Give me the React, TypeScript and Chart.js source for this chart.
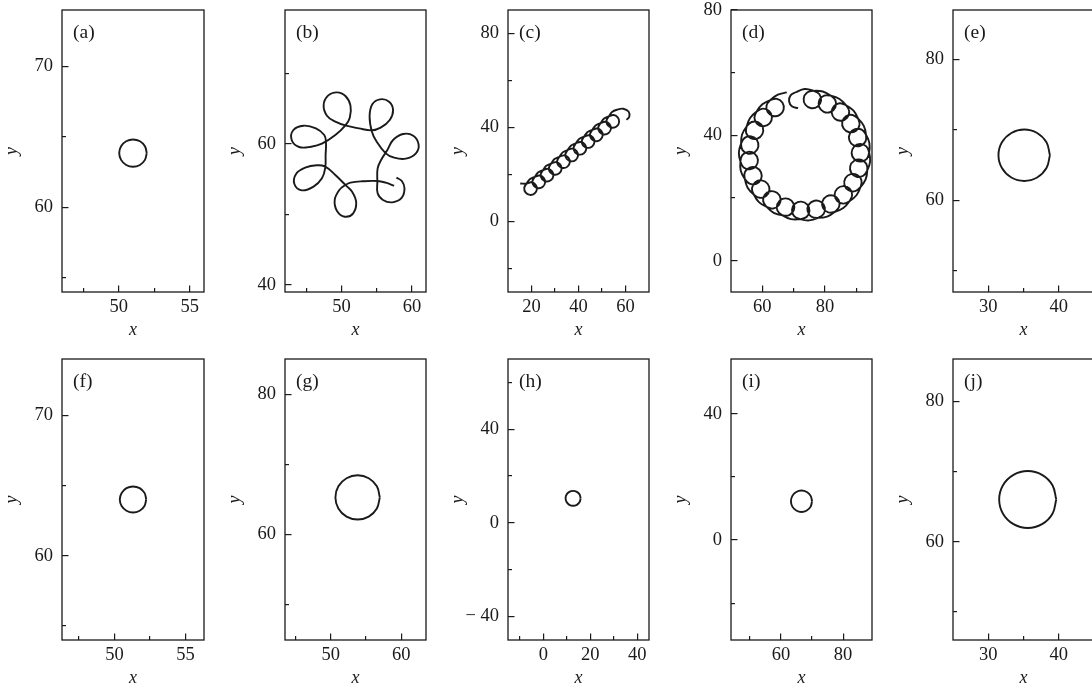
import React, { useEffect, useRef } from "react";
import { Chart, registerables } from "chart.js";

Chart.register(...registerables);

type Pt = [number, number];

// ---------- trajectories (x, y) ----------
const pathA: Pt[] = [
  [51.97, 63.85], [51.84, 64.34], [51.49, 64.69], [51.0, 64.82], [50.52, 64.69], [50.16, 64.34],
  [50.03, 63.85], [50.16, 63.37], [50.52, 63.01], [51.0, 62.88], [51.49, 63.01], [51.84, 63.37], [51.97, 63.85],
];

const pathB: Pt[] = [
  [57.48, 54.08], [56.29, 54.51], [55.1, 54.74], [52.95, 54.7], [51.29, 54.51], [50.57, 54.18],
  [49.71, 53.47], [49.05, 52.05], [49.38, 50.49], [50.48, 49.68], [51.67, 50.16], [52.1, 51.72], [51.52, 53.23], [50.67, 54.08], [49.14, 55.6], [47.71, 56.78],
  [46.52, 56.97], [44.86, 56.63], [43.57, 55.74], [43.33, 54.32], [44.38, 53.42], [46.05, 53.94], [47.24, 55.12], [47.71, 56.63], [47.76, 58.43], [47.81, 60.23],
  [47.57, 61.27], [46.38, 62.21], [44.62, 62.59], [43.19, 61.98], [42.95, 60.56], [44.0, 59.57], [45.71, 59.61], [47.24, 60.04], [49.14, 61.27], [50.57, 62.64],
  [51.19, 63.73], [51.29, 65.43], [50.57, 66.8], [49.38, 67.32], [48.1, 66.85], [47.48, 65.52], [47.95, 64.01], [49.14, 63.16], [50.67, 62.59], [52.48, 62.21], [54.29, 61.93],
  [55.57, 62.31], [56.86, 63.4], [57.33, 64.81], [56.76, 66.0], [55.48, 66.33], [54.38, 65.62], [54.0, 63.87], [54.33, 61.74], [54.95, 60.42], [56.29, 58.67],
  [57.48, 58.05], [59.14, 57.91], [60.57, 58.67], [60.95, 59.94], [60.19, 61.17], [58.76, 61.41], [57.33, 60.56], [56.52, 59.14], [55.71, 57.86], [55.14, 56.54], [55.1, 54.65],
  [55.14, 53.0], [55.9, 52.05], [57.24, 51.72], [58.57, 52.38], [58.95, 53.7], [58.57, 54.74], [57.81, 55.22],
];

const pathC: Pt[] = [
  [15.2, 16.2],
  [17.89, 16.09], [19.87, 16.69], [21.69, 15.71], [22.29, 13.73], [21.31, 11.91], [19.33, 11.31], [17.51, 12.29], [16.91, 14.27], [17.89, 16.09], [19.26, 17.98],
  [21.39, 18.95], [23.37, 19.55], [25.19, 18.57], [25.79, 16.59], [24.81, 14.77], [22.83, 14.17], [21.01, 15.15], [20.41, 17.13], [21.39, 18.95], [22.76, 20.84],
  [24.89, 21.81], [26.87, 22.41], [28.69, 21.43], [29.29, 19.45], [28.31, 17.63], [26.33, 17.03], [24.51, 18.01], [23.91, 19.99], [24.89, 21.81], [26.26, 23.7],
  [28.39, 24.67], [30.37, 25.27], [32.19, 24.29], [32.79, 22.31], [31.81, 20.49], [29.83, 19.89], [28.01, 20.87], [27.41, 22.85], [28.39, 24.67], [29.76, 26.56],
  [31.89, 27.53], [33.87, 28.13], [35.69, 27.15], [36.29, 25.17], [35.31, 23.35], [33.33, 22.75], [31.51, 23.73], [30.91, 25.71], [31.89, 27.53], [33.26, 29.42],
  [35.39, 30.39], [37.37, 30.99], [39.19, 30.01], [39.79, 28.03], [38.81, 26.21], [36.83, 25.61], [35.01, 26.59], [34.41, 28.57], [35.39, 30.39], [36.76, 32.28],
  [38.89, 33.25], [40.87, 33.85], [42.69, 32.87], [43.29, 30.89], [42.31, 29.07], [40.33, 28.47], [38.51, 29.45], [37.91, 31.43], [38.89, 33.25], [40.26, 35.14],
  [42.39, 36.11], [44.37, 36.71], [46.19, 35.73], [46.79, 33.75], [45.81, 31.93], [43.83, 31.33], [42.01, 32.31], [41.41, 34.29], [42.39, 36.11], [43.76, 38.0],
  [45.89, 38.97], [47.87, 39.57], [49.69, 38.59], [50.29, 36.61], [49.31, 34.79], [47.33, 34.19], [45.51, 35.17], [44.91, 37.15], [45.89, 38.97], [47.26, 40.86],
  [49.39, 41.83], [51.37, 42.43], [53.19, 41.45], [53.79, 39.47], [52.81, 37.65], [50.83, 37.05], [49.01, 38.03], [48.41, 40.01], [49.39, 41.83], [50.76, 43.72],
  [52.89, 44.69], [54.87, 45.29], [56.69, 44.31], [57.29, 42.33], [56.31, 40.51], [54.33, 39.91], [52.51, 40.89], [51.91, 42.87], [52.89, 44.69], [54.26, 46.58],
  [56.5, 47.6], [59.0, 48.0], [61.3, 46.8], [61.6, 44.6], [60.4, 43.3],
];

const pathD: Pt[] = [
  [71.41, 48.7], [69.52, 49.19], [68.53, 50.88], [69.01, 52.77], [70.7, 53.75], [73.5, 54.8],
  [76.37, 54.2], [78.22, 53.12], [78.75, 51.04], [77.67, 49.19], [75.59, 48.66], [73.74, 49.75], [73.21, 51.82], [74.3, 53.67], [76.37, 54.2], [79.29, 53.99],
  [81.88, 52.62], [83.35, 51.06], [83.3, 48.92], [81.74, 47.45], [79.6, 47.5], [78.13, 49.06], [78.18, 51.2], [79.74, 52.67], [81.88, 52.62], [84.63, 51.61],
  [86.74, 49.58], [87.73, 47.68], [87.09, 45.64], [85.18, 44.65], [83.14, 45.29], [82.15, 47.2], [82.8, 49.24], [84.7, 50.23], [86.74, 49.58], [89.11, 47.85],
  [90.58, 45.32], [91.01, 43.22], [89.83, 41.43], [87.73, 41.0], [85.94, 42.19], [85.51, 44.28], [86.69, 46.07], [88.79, 46.5], [90.58, 45.32], [92.38, 43.01],
  [93.09, 40.17], [92.93, 38.03], [91.3, 36.64], [89.16, 36.81], [87.77, 38.44], [87.94, 40.57], [89.57, 41.96], [91.7, 41.8], [93.09, 40.17], [94.18, 37.45],
  [94.09, 34.52], [93.34, 32.51], [91.39, 31.62], [89.38, 32.37], [88.49, 34.32], [89.24, 36.33], [91.19, 37.22], [93.2, 36.47], [94.09, 34.52], [94.39, 31.61],
  [93.49, 28.82], [92.21, 27.09], [90.09, 26.77], [88.37, 28.05], [88.06, 30.17], [89.33, 31.89], [91.45, 32.21], [93.17, 30.93], [93.49, 28.82], [92.97, 25.93],
  [91.34, 23.5], [89.64, 22.2], [87.52, 22.48], [86.22, 24.18], [86.49, 26.3], [88.2, 27.61], [90.32, 27.33], [91.63, 25.63], [91.34, 23.5], [90.05, 20.87],
  [87.81, 18.98], [85.82, 18.2], [83.86, 19.06], [83.07, 21.05], [83.92, 23.01], [85.92, 23.8], [87.88, 22.95], [88.67, 20.95], [87.81, 18.98], [85.84, 16.81],
  [83.17, 15.61], [81.04, 15.4], [79.39, 16.77], [79.18, 18.9], [80.54, 20.56], [82.68, 20.76], [84.33, 19.4], [84.54, 17.26], [83.17, 15.61], [80.68, 14.07],
  [77.78, 13.65], [75.68, 14.04], [74.46, 15.81], [74.85, 17.92], [76.62, 19.13], [78.73, 18.74], [79.94, 16.97], [79.55, 14.87], [77.78, 13.65], [74.97, 12.85],
  [72.06, 13.25], [70.15, 14.2], [69.47, 16.24], [70.42, 18.15], [72.45, 18.84], [74.37, 17.88], [75.05, 15.85], [74.1, 13.93], [72.06, 13.25], [69.13, 13.26],
  [66.46, 14.44], [64.87, 15.89], [64.78, 18.03], [66.23, 19.61], [68.37, 19.7], [69.95, 18.25], [70.04, 16.11], [68.59, 14.53], [66.46, 14.44], [63.64, 15.26],
  [61.39, 17.14], [60.27, 18.96], [60.78, 21.05], [62.6, 22.17], [64.68, 21.67], [65.81, 19.84], [65.31, 17.75], [63.48, 16.63], [61.39, 17.14], [58.91, 18.7],
  [57.27, 21.12], [56.69, 23.18], [57.75, 25.05], [59.81, 25.62], [61.68, 24.56], [62.25, 22.5], [61.19, 20.63], [59.13, 20.06], [57.27, 21.12], [55.31, 23.3],
  [54.4, 26.08], [54.42, 28.22], [55.95, 29.73], [58.09, 29.71], [59.59, 28.18], [59.58, 26.04], [58.05, 24.53], [55.91, 24.55], [54.4, 26.08], [53.12, 28.72],
  [53.01, 31.65], [53.62, 33.7], [55.51, 34.73], [57.56, 34.12], [58.58, 32.23], [57.98, 30.18], [56.09, 29.16], [54.04, 29.76], [53.01, 31.65], [52.51, 34.53],
  [53.21, 37.38], [54.36, 39.18], [56.46, 39.65], [58.26, 38.5], [58.73, 36.4], [57.58, 34.6], [55.48, 34.13], [53.68, 35.28], [53.21, 37.38], [53.53, 40.29],
  [54.99, 42.83], [56.59, 44.25], [58.73, 44.12], [60.15, 42.51], [60.02, 40.38], [58.41, 38.95], [56.27, 39.08], [54.85, 40.69], [54.99, 42.83], [56.09, 45.54],
  [58.19, 47.58], [60.12, 48.51], [62.14, 47.79], [63.07, 45.86], [62.35, 43.84], [60.42, 42.91], [58.4, 43.63], [57.47, 45.56], [58.19, 47.58], [60.0, 49.89],
  [62.58, 51.27], [64.7, 51.62], [66.44, 50.37], [66.8, 48.26], [65.55, 46.52], [63.44, 46.16], [61.7, 47.41], [61.34, 49.52], [62.58, 51.27], [64.96, 52.98],
  [67.8, 53.7],
];

const pathE: Pt[] = [
  [38.75, 66.4], [38.26, 68.23], [36.93, 69.56], [35.1, 70.05], [33.28, 69.56], [31.94, 68.23],
  [31.45, 66.4], [31.94, 64.58], [33.28, 63.24], [35.1, 62.75], [36.93, 63.24], [38.26, 64.58], [38.75, 66.4],
];

const pathF: Pt[] = [
  [52.23, 64.0], [52.11, 64.47], [51.77, 64.81], [51.3, 64.93], [50.84, 64.81], [50.5, 64.47],
  [50.37, 64.0], [50.5, 63.54], [50.84, 63.2], [51.3, 63.07], [51.77, 63.2], [52.11, 63.54], [52.23, 64.0],
];

const pathG: Pt[] = [
  [56.95, 65.3], [56.53, 66.88], [55.38, 68.03], [53.8, 68.45], [52.23, 68.03], [51.07, 66.88],
  [50.65, 65.3], [51.07, 63.73], [52.23, 62.57], [53.8, 62.15], [55.38, 62.57], [56.53, 63.73], [56.95, 65.3],
];

const pathH: Pt[] = [
  [15.9, 10.5], [15.47, 12.1], [14.3, 13.27], [12.7, 13.7], [11.1, 13.27], [9.93, 12.1],
  [9.5, 10.5], [9.93, 8.9], [11.1, 7.73], [12.7, 7.3], [14.3, 7.73], [15.47, 8.9], [15.9, 10.5],
];

const pathI: Pt[] = [
  [70.0, 12.3], [69.54, 14.0], [68.3, 15.24], [66.6, 15.7], [64.9, 15.24], [63.66, 14.0],
  [63.2, 12.3], [63.66, 10.6], [64.9, 9.36], [66.6, 8.9], [68.3, 9.36], [69.54, 10.6], [70.0, 12.3],
];

const pathJ: Pt[] = [
  [39.65, 66.0], [39.11, 68.03], [37.63, 69.51], [35.6, 70.05], [33.58, 69.51], [32.09, 68.03],
  [31.55, 66.0], [32.09, 63.98], [33.58, 62.49], [35.6, 61.95], [37.63, 62.49], [39.11, 63.98], [39.65, 66.0],
];

// ---------- axis ranges [xMin, xMax, yMin, yMax] and ticks ----------
const rangeA = [46, 56, 54, 74];
const xTicksA = [50, 55], xMinorA = [47.5, 52.5], yTicksA = [60, 70], yMinorA = [55, 65];
const rangeB = [42, 62, 39, 79];
const xTicksB = [50, 60], xMinorB = [45, 55], yTicksB = [40, 60], yMinorB = [50, 70];
const rangeC = [10, 70, -30, 90];
const xTicksC = [20, 40, 60], xMinorC = [30, 50], yTicksC = [0, 40, 80], yMinorC = [-20, 20, 60];
const rangeD = [50, 95, -10, 80];
const xTicksD = [60, 80], xMinorD = [70, 90], yTicksD = [0, 40, 80], yMinorD = [20, 60];
const rangeE = [25, 45, 47, 87];
const xTicksE = [30, 40], xMinorE = [35], yTicksE = [60, 80], yMinorE = [50, 70];
const rangeF = [46.3, 56.3, 54, 74];
const xTicksF = [50, 55], xMinorF = [47.5, 52.5], yTicksF = [60, 70], yMinorF = [55, 65];
const rangeG = [43.5, 63.5, 45, 85];
const xTicksG = [50, 60], xMinorG = [45, 55], yTicksG = [60, 80], yMinorG = [50, 70];
const rangeH = [-15, 45, -50, 70];
const xTicksH = [0, 20, 40], xMinorH = [-10, 10, 30], yTicksH = [-40, 0, 40], yMinorH = [-20, 20, 60];
const rangeI = [43.9, 89.3, -31.7, 57.4];
const xTicksI = [60, 80], xMinorI = [50, 70], yTicksI = [0, 40], yMinorI = [-20, 20];
const rangeJ = [25, 45, 46, 86];
const xTicksJ = [30, 40], xMinorJ = [35], yTicksJ = [60, 80], yMinorJ = [50, 70];

// ---------- layout ----------
const COL_LEFT = [62, 285, 508, 731, 953];
const ROW_TOP = [10, 359];
const ROW_H = [282, 281];
const PAD_L = 62, PAD_R = 6, PAD_T = 12, PAD_B = 52;
const INK = "#1a1a1a";
const FONT = "'Liberation Serif', 'Times New Roman', serif";

interface PanelSpec {
  label: string; col: number; row: number; w: number; path: Pt[]; range: number[];
  xt: number[]; xm: number[]; yt: number[]; ym: number[];
}

const panels: PanelSpec[] = [
  { label: "(a)", col: 0, row: 0, w: 142, path: pathA, range: rangeA, xt: xTicksA, xm: xMinorA, yt: yTicksA, ym: yMinorA },
  { label: "(b)", col: 1, row: 0, w: 141, path: pathB, range: rangeB, xt: xTicksB, xm: xMinorB, yt: yTicksB, ym: yMinorB },
  { label: "(c)", col: 2, row: 0, w: 141, path: pathC, range: rangeC, xt: xTicksC, xm: xMinorC, yt: yTicksC, ym: yMinorC },
  { label: "(d)", col: 3, row: 0, w: 141, path: pathD, range: rangeD, xt: xTicksD, xm: xMinorD, yt: yTicksD, ym: yMinorD },
  { label: "(e)", col: 4, row: 0, w: 141, path: pathE, range: rangeE, xt: xTicksE, xm: xMinorE, yt: yTicksE, ym: yMinorE },
  { label: "(f)", col: 0, row: 1, w: 142, path: pathF, range: rangeF, xt: xTicksF, xm: xMinorF, yt: yTicksF, ym: yMinorF },
  { label: "(g)", col: 1, row: 1, w: 141, path: pathG, range: rangeG, xt: xTicksG, xm: xMinorG, yt: yTicksG, ym: yMinorG },
  { label: "(h)", col: 2, row: 1, w: 141, path: pathH, range: rangeH, xt: xTicksH, xm: xMinorH, yt: yTicksH, ym: yMinorH },
  { label: "(i)", col: 3, row: 1, w: 141, path: pathI, range: rangeI, xt: xTicksI, xm: xMinorI, yt: yTicksI, ym: yMinorI },
  { label: "(j)", col: 4, row: 1, w: 141, path: pathJ, range: rangeJ, xt: xTicksJ, xm: xMinorJ, yt: yTicksJ, ym: yMinorJ },
];

const fmt = (v: number) => (v < 0 ? "\u2212 " + Math.abs(v) : String(v));

const framePlugin = {
  id: "panelFrame",
  afterDraw(chart: any, _args: any, opts: any) {
    const { ctx, chartArea } = chart;
    const { left, top, right, bottom } = chartArea;
    ctx.save();
    ctx.strokeStyle = INK;
    ctx.lineWidth = 1.3;
    ctx.strokeRect(left, top, right - left, bottom - top);
    ctx.fillStyle = INK;
    ctx.font = `19.5px ${FONT}`;
    ctx.textAlign = "left";
    ctx.textBaseline = "middle";
    ctx.fillText(opts.label, left + 11, top + 23);
    ctx.restore();
  },
};

const tickGrid = (len: number) => ({
  display: true,
  drawOnChartArea: false,
  drawTicks: true,
  tickLength: -len,
  color: INK,
  lineWidth: 1.2,
  tickColor: INK,
  tickWidth: 1.2,
});

function Panel({ spec }: { spec: PanelSpec }) {
  const ref = useRef<HTMLCanvasElement | null>(null);
  const left = COL_LEFT[spec.col];
  const top = ROW_TOP[spec.row];
  const h = ROW_H[spec.row];
  const w = spec.w;

  useEffect(() => {
    const [x0, x1, y0, y1] = spec.range;
    const tickFont = { family: FONT, size: 18.5 };
    const titleFont = { family: FONT, size: 18, style: "italic" as const };
    const chart = new Chart(ref.current as HTMLCanvasElement, {
      type: "scatter",
      data: {
        datasets: [
          {
            data: spec.path.map(([x, y]) => ({ x, y })),
            showLine: true,
            pointRadius: 0,
            pointHoverRadius: 0,
            borderColor: INK,
            borderWidth: 1.9,
            tension: 0.4,
            fill: false,
          },
        ],
      },
      options: {
        animation: false,
        responsive: false,
        maintainAspectRatio: false,
        events: [],
        layout: { padding: { left: 0, top: PAD_T, right: PAD_R, bottom: 0 } },
        plugins: {
          legend: { display: false },
          tooltip: { enabled: false },
          panelFrame: { label: spec.label },
        } as any,
        scales: {
          x: {
            type: "linear", position: "bottom", min: x0, max: x1, weight: 1,
            afterBuildTicks: (s: any) => { s.ticks = spec.xt.map((v) => ({ value: v })); },
            afterFit: (s: any) => { s.height = PAD_B; s.paddingLeft = 0; s.paddingRight = 0; },
            grid: tickGrid(6.5),
            border: { display: false },
            ticks: { padding: 11, autoSkip: false, maxRotation: 0, color: INK, font: tickFont, callback: (v: any) => fmt(Number(v)) },
            title: { display: true, text: "x", color: INK, font: titleFont, padding: { top: 0, bottom: 3 } },
          },
          xMinor: {
            type: "linear", position: "bottom", min: x0, max: x1, weight: 0,
            afterBuildTicks: (s: any) => { s.ticks = spec.xm.map((v) => ({ value: v })); },
            afterFit: (s: any) => { s.height = 0; s.paddingLeft = 0; s.paddingRight = 0; },
            grid: tickGrid(4),
            border: { display: false },
            ticks: { display: false },
          },
          y: {
            type: "linear", position: "left", min: y0, max: y1, weight: 1,
            afterBuildTicks: (s: any) => { s.ticks = spec.yt.map((v) => ({ value: v })); },
            afterFit: (s: any) => { s.width = PAD_L; s.paddingTop = 0; s.paddingBottom = 0; },
            grid: tickGrid(6.5),
            border: { display: false },
            ticks: { padding: 15.5, autoSkip: false, color: INK, font: tickFont, callback: (v: any) => fmt(Number(v)) },
            title: { display: true, text: "y", color: INK, font: titleFont, padding: { top: 1, bottom: 0 } },
          },
          yMinor: {
            type: "linear", position: "left", min: y0, max: y1, weight: 0,
            afterBuildTicks: (s: any) => { s.ticks = spec.ym.map((v) => ({ value: v })); },
            afterFit: (s: any) => { s.width = 0; s.paddingTop = 0; s.paddingBottom = 0; },
            grid: tickGrid(4),
            border: { display: false },
            ticks: { display: false },
          },
        } as any,
      },
      plugins: [framePlugin as any],
    });
    return () => chart.destroy();
  }, []);

  return (
    <canvas
      ref={ref}
      width={w + PAD_L + PAD_R}
      height={h + PAD_T + PAD_B}
      style={{ position: "absolute", left: left - PAD_L, top: top - PAD_T, display: "block" }}
    />
  );
}

export default function App() {
  return (
    <div style={{ position: "relative", width: 1092, height: 691, overflow: "hidden", background: "#fff" }}>
      <style>{"html,body{margin:0;padding:0;overflow:hidden;background:#fff}"}</style>
      {panels.map((p) => (
        <Panel key={p.label} spec={p} />
      ))}
    </div>
  );
}
